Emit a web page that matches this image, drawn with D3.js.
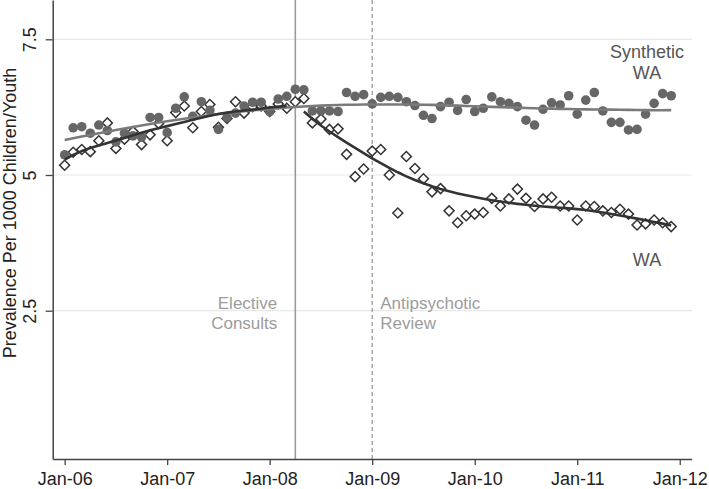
<!DOCTYPE html>
<html>
<head>
<meta charset="utf-8">
<script src="https://cdn.jsdelivr.net/npm/d3@7"></script>
<style>
  html, body { margin: 0; padding: 0; background: #fff; }
  svg { display: block; font-family: "Liberation Sans", Arial, sans-serif; }
</style>
</head>
<body>
<svg id="chart" width="709" height="489"></svg>
<script>
// ---- data (monthly, Jan-06 .. Dec-11) ----
const tickLabels = ["Jan-06", "Jan-07", "Jan-08", "Jan-09", "Jan-10", "Jan-11", "Jan-12"];
const yTickValues = [2.5, 5, 7.5];
const yTickLabels = ["2.5", "5", "7.5"];

const synthetic = [
  5.37, 5.87, 5.89, 5.77, 5.92, 5.82, 5.61, 5.77, 5.72, 5.70,
  6.06, 6.06, 5.78, 6.23, 6.44, 6.08, 6.35, 6.19, 5.84, 6.06,
  6.14, 6.27, 6.34, 6.34, 6.17, 6.40, 6.45, 6.58, 6.57, 6.18,
  6.18, 6.18, 6.17, 6.52, 6.45, 6.48, 6.31, 6.43, 6.45, 6.43,
  6.35, 6.28, 6.10, 6.04, 6.26, 6.34, 6.19, 6.39, 6.17, 6.23,
  6.44, 6.35, 6.32, 6.26, 6.01, 5.92, 6.21, 6.33, 6.29, 6.46,
  6.12, 6.38, 6.52, 6.18, 5.97, 5.97, 5.83, 5.84, 6.12, 6.32,
  6.50, 6.46
];
const wa = [
  5.18, 5.42, 5.47, 5.43, 5.63, 5.96, 5.49, 5.66, 5.80, 5.56,
  5.74, 5.95, 5.63, 6.15, 6.27, 5.87, 6.17, 6.30, 5.88, 6.04,
  6.35, 6.14, 6.26, 6.27, 6.17, 6.31, 6.23, 6.35, 6.41, 5.96,
  6.03, 5.84, 5.85, 5.38, 4.97, 5.11, 5.44, 5.47, 5.00, 4.30,
  5.34, 5.12, 4.93, 4.69, 4.75, 4.34, 4.12, 4.25, 4.28, 4.31,
  4.57, 4.43, 4.56, 4.74, 4.57, 4.42, 4.56, 4.59, 4.43, 4.43,
  4.17, 4.43, 4.42, 4.34, 4.31, 4.37, 4.28, 4.08, 4.10, 4.17,
  4.12, 4.05
];
// month indices of events (0 = Jan-06)
const electiveMonth = 27;   // Apr-08
const reviewMonth = 36;     // Jan-09
const preRange = [0, 26];
const postRange = [28, 71];

// ---- lowess (local linear, tricube, Stata-style bandwidth 0.8) ----
function lowess(xs, ys, bw) {
  const n = xs.length;
  const k = Math.floor((n * bw - 0.5) / 2);
  return xs.map((xi, i) => {
    const lo = Math.max(0, i - k), hi = Math.min(n - 1, i + k);
    const delta = 1.0001 * Math.max(xs[hi] - xi, xi - xs[lo]);
    let sw = 0, swx = 0, swy = 0, swxx = 0, swxy = 0;
    for (let j = lo; j <= hi; j++) {
      const u = Math.abs(xs[j] - xi) / delta;
      const w = u < 1 ? Math.pow(1 - u * u * u, 3) : 0;
      sw += w; swx += w * xs[j]; swy += w * ys[j];
      swxx += w * xs[j] * xs[j]; swxy += w * xs[j] * ys[j];
    }
    const mx = swx / sw, my = swy / sw;
    const vx = swxx / sw - mx * mx;
    const b = vx > 1e-12 ? (swxy / sw - mx * my) / vx : 0;
    return [xi, my + b * (xi - mx)];
  });
}

// ---- layout ----
const svg = d3.select("#chart");
const W = 709, H = 489;
const axisLeftX = 52.7, axisRightX = 691.7, axisBottomY = 459;

const x = d3.scaleLinear().domain([-1.4, 73.4]).range([axisLeftX, axisRightX]);
const y = d3.scaleLinear().domain([-0.232, 8.224]).range([axisBottomY, 0]);

svg.append("rect").attr("width", W).attr("height", H).attr("fill", "#fff");

// gridlines
svg.append("g").selectAll("line").data(yTickValues).join("line")
  .attr("x1", axisLeftX).attr("x2", axisRightX)
  .attr("y1", d => y(d)).attr("y2", d => y(d))
  .attr("stroke", "#e8e8e8").attr("stroke-width", 1.2);

// event lines
svg.append("line")
  .attr("x1", x(electiveMonth)).attr("x2", x(electiveMonth))
  .attr("y1", 0).attr("y2", axisBottomY)
  .attr("stroke", "#9a9a9a").attr("stroke-width", 1.6);
svg.append("line")
  .attr("x1", x(reviewMonth)).attr("x2", x(reviewMonth))
  .attr("y1", 0).attr("y2", axisBottomY)
  .attr("stroke", "#9a9a9a").attr("stroke-width", 1.3)
  .attr("stroke-dasharray", "4,3");

// event labels
const evText = svg.append("g").attr("font-size", 17).attr("fill", "#9c9c9c");
evText.append("text").attr("x", x(electiveMonth) - 18).attr("y", 309)
  .attr("text-anchor", "end").text("Elective");
evText.append("text").attr("x", x(electiveMonth) - 18).attr("y", 328.5)
  .attr("text-anchor", "end").text("Consults");
evText.append("text").attr("x", x(reviewMonth) + 8).attr("y", 309).text("Antipsychotic");
evText.append("text").attr("x", x(reviewMonth) + 8).attr("y", 328.5).text("Review");

// points: WA diamonds
const months = d3.range(wa.length);
const diamond = d3.symbol().type(d3.symbolSquare).size(50);
svg.append("g").selectAll("path").data(months).join("path")
  .attr("d", diamond)
  .attr("transform", i => `translate(${x(i)},${y(wa[i])}) rotate(45)`)
  .attr("fill", "#fff").attr("stroke", "#333").attr("stroke-width", 1.5);

// points: synthetic circles
svg.append("g").selectAll("circle").data(months).join("circle")
  .attr("cx", i => x(i)).attr("cy", i => y(synthetic[i])).attr("r", 4.8)
  .attr("fill", "#666");

// fitted lowess lines
const line = d3.line().x(d => x(d[0])).y(d => y(d[1]));
const synFit = lowess(months, synthetic, 0.8);
const preIdx = d3.range(preRange[0], preRange[1] + 1);
const postIdx = d3.range(postRange[0], postRange[1] + 1);
const preFit = lowess(preIdx, preIdx.map(i => wa[i]), 0.8);
const postFit = lowess(postIdx, postIdx.map(i => wa[i]), 0.8);

svg.append("path").datum(synFit).attr("d", line)
  .attr("fill", "none").attr("stroke", "#7a7a7a").attr("stroke-width", 2.6)
  .attr("stroke-linejoin", "round");
svg.append("path").datum(preFit).attr("d", line)
  .attr("fill", "none").attr("stroke", "#333").attr("stroke-width", 2.6)
  .attr("stroke-linejoin", "round");
svg.append("path").datum(postFit).attr("d", line)
  .attr("fill", "none").attr("stroke", "#333").attr("stroke-width", 2.6)
  .attr("stroke-linejoin", "round");

// series labels
const lab = svg.append("g").attr("font-size", 18).attr("fill", "#555").attr("text-anchor", "middle");
lab.append("text").attr("x", 647).attr("y", 58).text("Synthetic");
lab.append("text").attr("x", 647).attr("y", 79).text("WA");
lab.append("text").attr("x", 647).attr("y", 266).text("WA");

// x axis
const xAxis = d3.axisBottom(x)
  .tickValues(d3.range(0, 73, 12))
  .tickFormat((d, i) => tickLabels[i])
  .tickSize(6).tickSizeOuter(0);
const gx = svg.append("g").attr("transform", `translate(0,${axisBottomY})`).call(xAxis);
gx.select(".domain").attr("stroke", "#444").attr("stroke-width", 1.5);
gx.selectAll(".tick line").attr("stroke", "#444").attr("stroke-width", 1.3);
gx.selectAll(".tick text").attr("font-size", 18).attr("fill", "#222")
  .attr("y", 26).attr("dy", 0).attr("font-family", "Liberation Sans, Arial, sans-serif");

// y axis
const yAxis = d3.axisLeft(y)
  .tickValues(yTickValues)
  .tickFormat((d, i) => yTickLabels[i])
  .tickSize(7).tickSizeOuter(0);
const gy = svg.append("g").attr("transform", `translate(${axisLeftX},0)`).call(yAxis);
gy.select(".domain").attr("stroke", "#444").attr("stroke-width", 1.5);
gy.selectAll(".tick line").attr("stroke", "#444").attr("stroke-width", 1.3);
gy.selectAll(".tick text").attr("font-size", 18).attr("fill", "#222")
  .attr("font-family", "Liberation Sans, Arial, sans-serif")
  .attr("transform", "rotate(-90)")
  .attr("text-anchor", "middle")
  .attr("x", 0).attr("y", -17).attr("dy", 0);

// y axis title
svg.append("text")
  .attr("transform", "translate(16,213) rotate(-90)")
  .attr("text-anchor", "middle").attr("font-size", 18).attr("fill", "#222")
  .text("Prevalence Per 1000 Children/Youth");
</script>
</body>
</html>
